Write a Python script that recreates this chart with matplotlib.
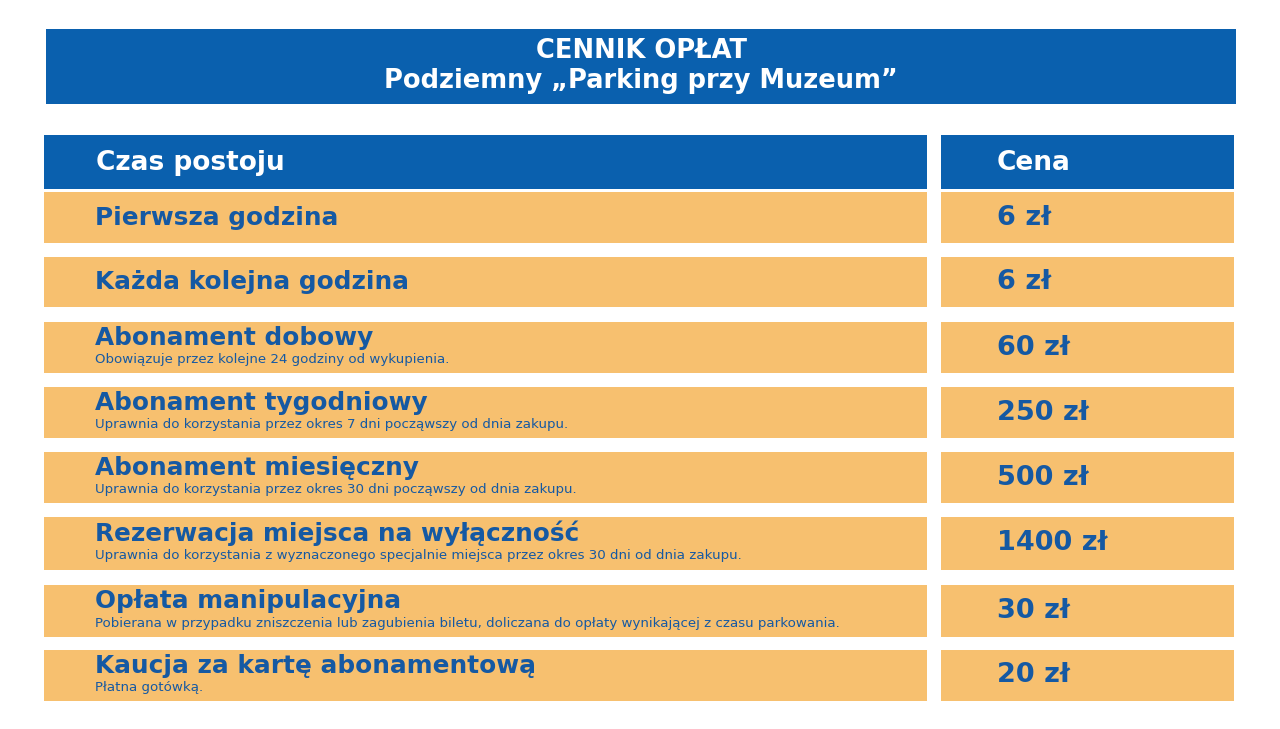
import matplotlib
matplotlib.use("Agg")
import matplotlib.pyplot as plt

plt.rcParams['font.family'] = ['DejaVu Sans']

title_lines = ["CENNIK OPŁAT", "Podziemny „Parking przy Muzeum”"]
header = ["Czas postoju", "Cena"]
names = ["Pierwsza godzina", "Każda kolejna godzina", "Abonament dobowy",
         "Abonament tygodniowy", "Abonament miesięczny",
         "Rezerwacja miejsca na wyłączność", "Opłata manipulacyjna",
         "Kaucja za kartę abonamentową"]
descs = ["", "", "Obowiązuje przez kolejne 24 godziny od wykupienia.",
         "Uprawnia do korzystania przez okres 7 dni począwszy od dnia zakupu.",
         "Uprawnia do korzystania przez okres 30 dni począwszy od dnia zakupu.",
         "Uprawnia do korzystania z wyznaczonego specjalnie miejsca przez okres 30 dni od dnia zakupu.",
         "Pobierana w przypadku zniszczenia lub zagubienia biletu, doliczana do opłaty wynikającej z czasu parkowania.",
         "Płatna gotówką."]
prices = [6, 6, 60, 250, 500, 1400, 30, 20]

BLUE = "#0a60ae"
ORANGE = "#f7c06f"
TXT = "#1559a3"

fig = plt.figure(figsize=(12.8, 7.29), dpi=100)
ax = fig.add_axes([0, 0, 1, 1])
ax.set_xlim(0, 1280)
ax.set_ylim(729, 0)
ax.axis('off')

# title
ax.barh([66.5], [1190], left=46, height=75, color=BLUE)
ax.text(641, 51, title_lines[0], color='white', fontsize=18.5, fontweight='bold', ha='center', va='center')
ax.text(641, 81, title_lines[1], color='white', fontsize=18.5, fontweight='bold', ha='center', va='center')

# header
ax.barh([162], [883], left=44, height=54, color=BLUE)
ax.barh([162], [293], left=941, height=54, color=BLUE)
ax.text(96, 163, header[0], color='white', fontsize=19, fontweight='bold', va='center')
ax.text(997, 163, header[1], color='white', fontsize=19, fontweight='bold', va='center')

tops = [192, 257, 322, 387, 452, 517, 585, 650]
hts = [51, 50, 51, 51, 51, 53, 52, 51]
centers = [t + h / 2 for t, h in zip(tops, hts)]
ax.barh(centers, [883] * len(tops), left=44, height=hts, color=ORANGE)
ax.barh(centers, [293] * len(tops), left=941, height=hts, color=ORANGE)

for i, (n, d, p) in enumerate(zip(names, descs, prices)):
    c = centers[i]
    if d:
        ax.text(95, c - 10, n, color=TXT, fontsize=17.8, fontweight='bold', va='center')
        ax.text(95, c + 12, d, color=TXT, fontsize=9.6, va='center')
    else:
        ax.text(95, c, n, color=TXT, fontsize=17.8, fontweight='bold', va='center')
    ax.text(997, c, f"{p} zł", color=TXT, fontsize=19.5, fontweight='bold', va='center')

fig.savefig("out.png", dpi=100, facecolor='white')
